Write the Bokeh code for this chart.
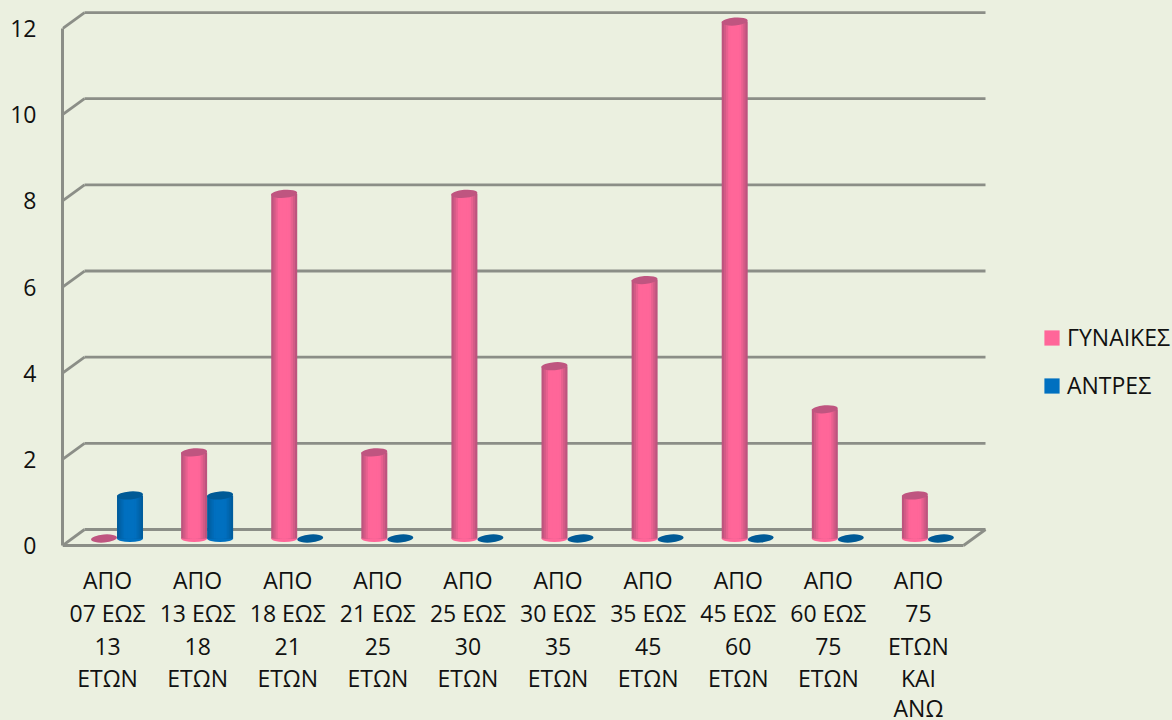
from bokeh.plotting import figure
from bokeh.models import (FixedTicker, Legend, LegendItem, Range1d)
from bokeh.core.properties import value
from bokeh.embed import file_html
from bokeh.resources import INLINE

categories = [
    ["ΑΠΟ", "07 ΕΩΣ", "13", "ΕΤΩΝ"], ["ΑΠΟ", "13 ΕΩΣ", "18", "ΕΤΩΝ"], ["ΑΠΟ", "18 ΕΩΣ", "21", "ΕΤΩΝ"],
    ["ΑΠΟ", "21 ΕΩΣ", "25", "ΕΤΩΝ"], ["ΑΠΟ", "25 ΕΩΣ", "30", "ΕΤΩΝ"], ["ΑΠΟ", "30 ΕΩΣ", "35", "ΕΤΩΝ"],
    ["ΑΠΟ", "35 ΕΩΣ", "45", "ΕΤΩΝ"], ["ΑΠΟ", "45 ΕΩΣ", "60", "ΕΤΩΝ"], ["ΑΠΟ", "60 ΕΩΣ", "75", "ΕΤΩΝ"],
    ["ΑΠΟ", "75", "ΕΤΩΝ", "ΚΑΙ", "ΑΝΩ"],
]
gynaikes = [0, 2, 8, 2, 8, 4, 6, 12, 3, 1]
antres = [1, 1, 0, 0, 0, 0, 0, 0, 0, 0]
y_ticks = [0, 2, 4, 6, 8, 10, 12]

BG = "#EBF0E0"
GRID = "#8B8E87"
FONT = "Open Sans"
FS = "23px"

PX_X = 90.1    # pixels per category
PX_Y = 43.08   # pixels per unit
LEFT, RIGHT = -0.61, 9.39
DX, DY = 22 / PX_X, 16 / PX_Y   # depth of the 3D floor
BASE = 7 / PX_Y                 # bars stand part-way into the floor
BAR_W = 26 / PX_X
OFF = BAR_W / 2
LINE_OFFSETS = [34.5, 67.5, 100.5, 132.5, 162]

p = figure(width=1172, height=720, output_backend="svg", toolbar_location=None,
           x_range=Range1d(LEFT, LEFT + 1110 / PX_X), y_range=Range1d(-175 / PX_Y, 545 / PX_Y),
           min_border_left=62, min_border_bottom=0, min_border_right=0, min_border_top=0,
           background_fill_color=BG, border_fill_color=BG, outline_line_color=None)
p.grid.visible = False
p.xaxis.visible = False

# value axis
p.yaxis.ticker = FixedTicker(ticks=y_ticks)
p.yaxis.bounds = (0, 12)
p.yaxis.major_tick_line_color = None
p.yaxis.minor_tick_line_color = None
p.yaxis.axis_line_color = GRID
p.yaxis.axis_line_width = 3
p.yaxis.major_label_standoff = 20
p.yaxis.major_label_text_font = FONT
p.yaxis.major_label_text_font_size = FS
p.yaxis.major_label_text_color = "#111111"

# back wall gridlines and wall/floor edges
p.segment(x0=[LEFT + DX] * len(y_ticks), x1=[RIGHT + DX] * len(y_ticks),
          y0=[v + DY for v in y_ticks], y1=[v + DY for v in y_ticks],
          line_color=GRID, line_width=2.8)
p.segment(x0=[LEFT] * len(y_ticks), x1=[LEFT + DX] * len(y_ticks),
          y0=y_ticks, y1=[v + DY for v in y_ticks],
          line_color=GRID, line_width=2.8)
p.segment(x0=[RIGHT], x1=[RIGHT + DX], y0=[0], y1=[DY], line_color=GRID, line_width=2.8)
p.segment(x0=[LEFT], x1=[RIGHT], y0=[0], y1=[0], line_color=GRID, line_width=3)


def mix(a, b, t):
    ca = [int(a[i:i + 2], 16) for i in (1, 3, 5)]
    cb = [int(b[i:i + 2], 16) for i in (1, 3, 5)]
    return "#%02x%02x%02x" % tuple(round(x + (y - x) * t) for x, y in zip(ca, cb))


def cylinders(values, shift, light, dark, top):
    xs = [i + shift for i in range(len(values))]
    tops = [v + BASE for v in values]
    pos = [v > 0 for v in values]
    bx = [x for x, q in zip(xs, pos) if q]
    p.ellipse(x=bx, y=[BASE] * len(bx), width=BAR_W, height=7 / PX_Y,
              fill_color=light, line_color=None)
    # nested bars, widest and darkest first, give the round shading
    n = 6
    main = None
    for k in range(n):
        frac = 1 - k / n
        shade = min(1.0, (k + 0.4) / (n - 2.5))
        r = p.vbar(x=xs, bottom=BASE, top=tops, width=BAR_W * frac,
                   fill_color=mix(dark, light, shade), line_color=None)
        if k == n - 1:
            main = r
    p.ellipse(x=xs, y=tops, width=BAR_W, height=8 / PX_Y, angle=0.08,
              fill_color=top, line_color=None)
    return main


r_g = cylinders(gynaikes, -OFF - 0.005, "#FF6699", "#B5527A", "#BF5580")
r_a = cylinders(antres, OFF - 0.005, "#0070C0", "#005A9A", "#005A96")

# category labels, one text per line
tx, ty, tt, to = [], [], [], []
for i, cat in enumerate(categories):
    for off, line in zip(LINE_OFFSETS, cat):
        tx.append(i - 0.11)
        ty.append(0)
        tt.append(line)
        to.append(off)
p.text(x=tx, y=ty, text=tt, y_offset=to, text_align="center", text_baseline="middle",
       text_font=value(FONT), text_font_size=value(FS), text_color="#111111")

# legend
items = [LegendItem(label="ΓΥΝΑΙΚΕΣ", renderers=[r_g]), LegendItem(label="ΑΝΤΡΕΣ", renderers=[r_a])]
legend = Legend(items=items, location=(980, 319), orientation="vertical",
                background_fill_alpha=0, border_line_color=None,
                label_text_font=FONT, label_text_font_size=FS, label_text_color="#111111",
                glyph_width=19, glyph_height=19, spacing=16, padding=0, margin=0, label_standoff=6)
p.add_layout(legend, "center")

open("out.html", "w").write(file_html(p, INLINE).replace(
    "</head>", "<style>html,body{background:%s;overflow:hidden}</style></head>" % BG))
